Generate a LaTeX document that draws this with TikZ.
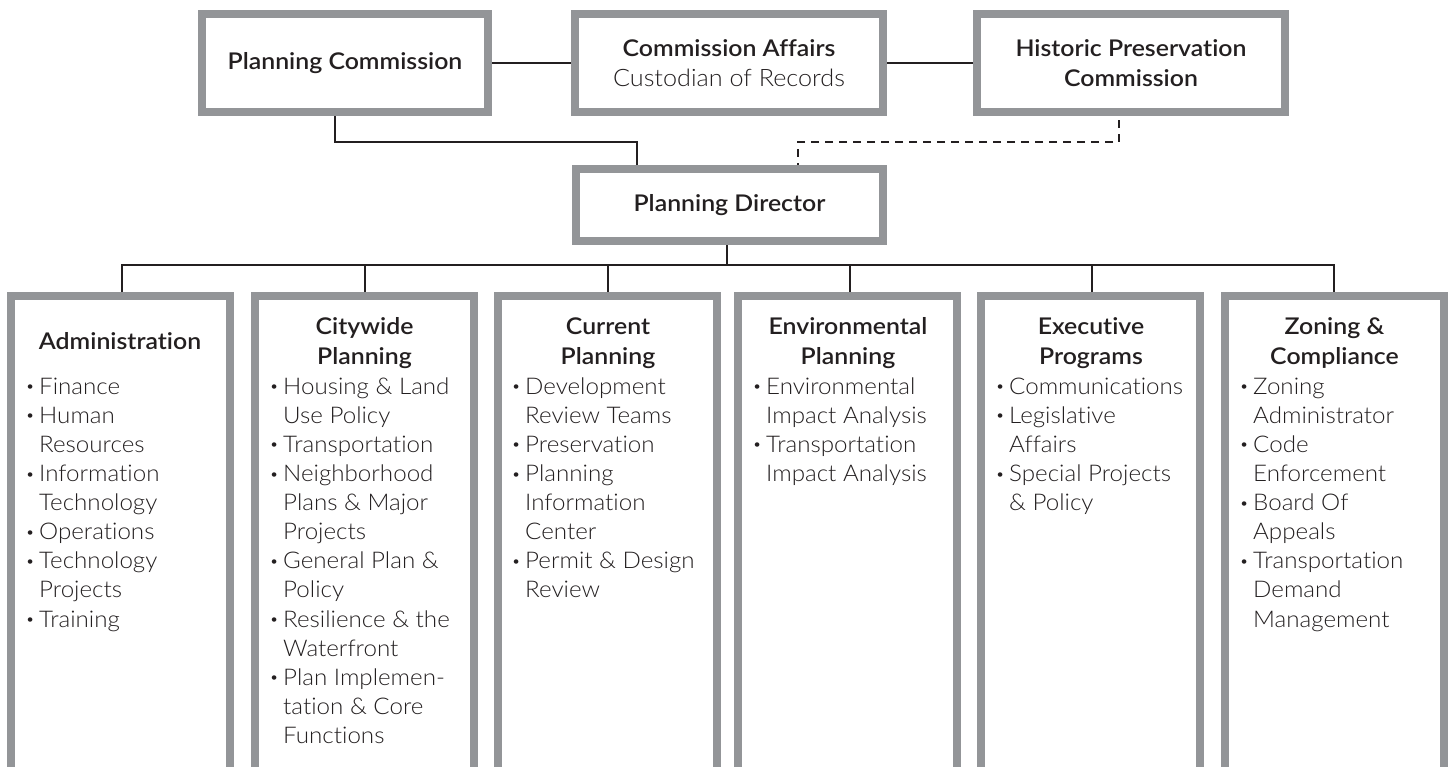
\documentclass[tikz,border=0pt]{standalone}
\usepackage{fontspec}
\setmainfont{Lato}[Ligatures=NoCommon]
\newfontfamily\medfont{Lato Semibold}[FakeStretch=1.08, Ligatures=NoCommon]
\newfontfamily\lightfont{Lato Light}[FakeStretch=1.05, Ligatures=NoCommon]
\usetikzlibrary{calc}
\definecolor{boxgray}{RGB}{147,149,152}
\definecolor{ink}{RGB}{35,31,32}
\newcommand\bul[1]{\makebox[13pt][l]{\hspace{-0.5pt}\raisebox{2.5pt}{\fontsize{15}{15}\selectfont\textbullet}}#1}
\newcommand\cont[1]{\hspace*{13pt}#1}
\newcommand\tp{\rule{0pt}{20pt}}
\begin{document}
\begin{tikzpicture}[x=1pt,y=-1pt,
  topbox/.style={draw=boxgray, line width=8pt, fill=white, inner sep=0pt, align=center,
    font=\medfont\fontsize{23}{30}\selectfont, text=ink},
  colbox/.style={draw=boxgray, line width=8pt, fill=white, inner sep=0pt,
    minimum width=219pt, minimum height=520pt, anchor=north west},
  head/.style={anchor=north, inner sep=0pt, align=center, text=ink,
    font=\medfont\fontsize{23}{30}\selectfont},
  items/.style={anchor=north west, inner sep=0pt, align=left, text=ink,
    font=\lightfont\fontsize{23}{29.1}\selectfont},
  link/.style={draw=ink, line width=2.2pt},
  dlink/.style={draw=ink, line width=2.2pt, dash pattern=on 8pt off 6pt}]
\useasboundingbox (0,0) rectangle (1454,766);
\clip (0,0) rectangle (1454,766);
\fill[white] (0,0) rectangle (1454,766);

% top row
\node[topbox, minimum width=286pt, minimum height=98pt] (PC) at (345,63) {\raisebox{-2pt}{Planning Commission}};
\node[topbox, minimum width=308pt, minimum height=98pt] (CA) at (729,63)
  {Commission Affairs\\{\lightfont\fontsize{24}{30}\selectfont Custodian of Records}};
\node[topbox, minimum width=308pt, minimum height=98pt] (HPC) at (1131,63)
  {Historic Preservation\\Commission};
\node[topbox, minimum width=307pt, minimum height=72pt] (PD) at (729.5,205) {\raisebox{-2pt}{Planning Director}};

% columns
\node[colbox] (C1) at (7,292) {};
\node[colbox] (C2) at (251,292) {};
\node[colbox] (C3) at (494,292) {};
\node[colbox] (C4) at (734,292) {};
\node[colbox] (C5) at (977,292) {};
\node[colbox] (C6) at (1221,292) {};

% connectors
\coordinate (pcx) at (335,0);
\coordinate (b1) at (637,142);
\coordinate (hx) at (1119,0);
\coordinate (b2) at (798,142);
\coordinate (pdx) at (727,0);
\coordinate (bus) at (727,265);
\coordinate (d1) at (122,0);
\coordinate (d2) at (365,0);
\coordinate (d3) at (608,0);
\coordinate (d4) at (850,0);
\coordinate (d5) at (1092,0);
\coordinate (d6) at (1334,0);

\draw[link] (PC.east) -- (CA.west);
\draw[link] (CA.east) -- (HPC.west);
\draw[link] (PC.south -| pcx) |- (b1) -- (PD.north -| b1);
\draw[dlink] ($(HPC.south -| hx)+(0,4)$) |- (b2) -- (PD.north -| b2);
\draw[link] (PD.south -| pdx) -- (bus);
\draw[link] (C1.north -| d1) |- (bus) -| (C6.north -| d6);
\draw[link] (C2.north -| d2) -- (d2 |- bus);
\draw[link] (C3.north -| d3) -- (d3 |- bus);
\draw[link] (C4.north -| d4) -- (d4 |- bus);
\draw[link] (C5.north -| d5) -- (d5 |- bus);

% headers
\node[head] (H1) at (120,329) {\tp Administration};
\node[head] (H2) at (364.5,314) {\tp Citywide\\Planning};
\node[head] (H3) at (608,314) {\tp Current\\Planning};
\node[head] (H4) at (848,314) {\tp Environmental\\Planning};
\node[head] (H5) at (1091,314) {\tp Executive\\Programs};
\node[head] (H6) at (1334.5,314) {\tp Zoning \&\\Compliance};

% item lists
\node[items] (L1) at (26,374) {\tp\bul{Finance}\\\bul{Human}\\\cont{Resources}\\\bul{Information}\\\cont{Technology}\\\bul{Operations}\\\bul{Technology}\\\cont{Projects}\\\bul{Training}};
\node[items] (L2) at (270,374) {\tp\bul{Housing \& Land}\\\cont{Use Policy}\\\bul{Transportation}\\\bul{Neighborhood}\\\cont{Plans \& Major}\\\cont{Projects}\\\bul{General Plan \&}\\\cont{Policy}\\\bul{Resilience \& the}\\\cont{Waterfront}\\\bul{Plan Implemen-}\\\cont{tation \& Core}\\\cont{Functions}};
\node[items] (L3) at (512,374) {\tp\bul{Development}\\\cont{Review Teams}\\\bul{Preservation}\\\bul{Planning}\\\cont{Information}\\\cont{Center}\\\bul{Permit \& Design}\\\cont{Review}};
\node[items] (L4) at (753,374) {\tp\bul{Environmental}\\\cont{Impact Analysis}\\\bul{Transportation}\\\cont{Impact Analysis}};
\node[items] (L5) at (996,374) {\tp\bul{Communications}\\\bul{Legislative}\\\cont{Affairs}\\\bul{Special Projects}\\\cont{\& Policy}};
\node[items] (L6) at (1240,374) {\tp\bul{Zoning}\\\cont{Administrator}\\\bul{Code}\\\cont{Enforcement}\\\bul{Board Of}\\\cont{Appeals}\\\bul{Transportation}\\\cont{Demand}\\\cont{Management}};
\end{tikzpicture}
\end{document}
